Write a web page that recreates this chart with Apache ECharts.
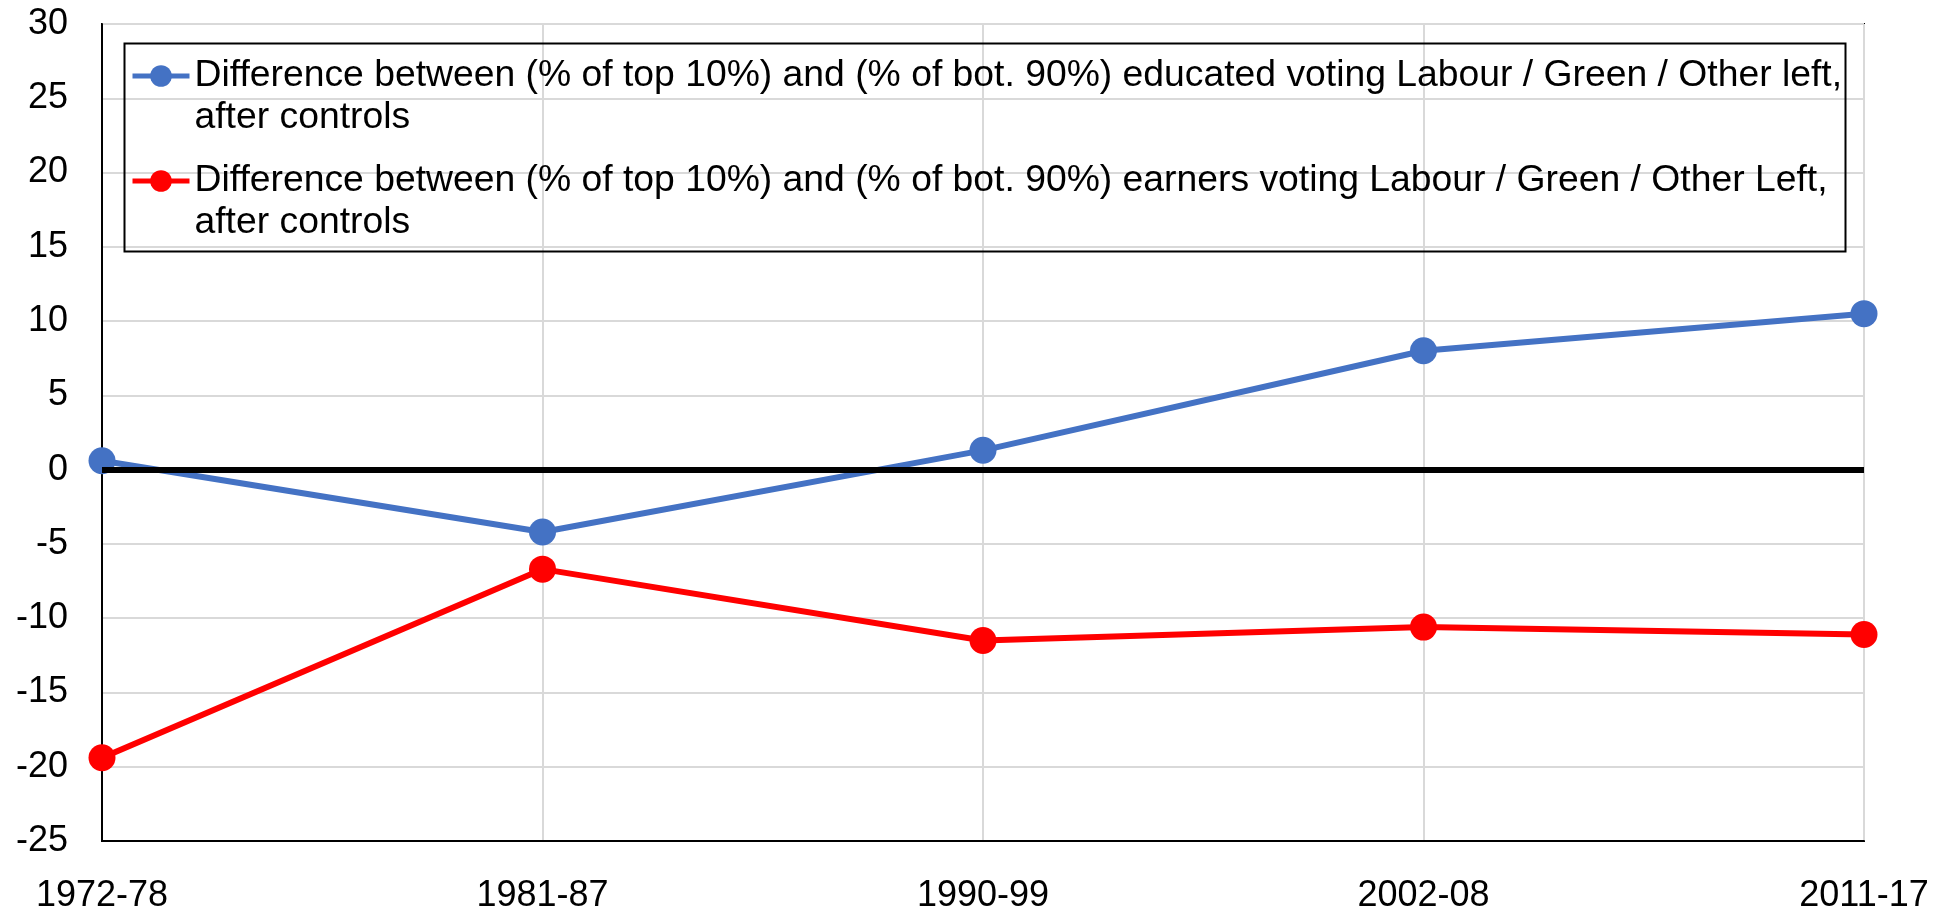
<!DOCTYPE html>
<html lang="en">
<head>
    <meta charset="UTF-8">
    <title>Top 10% educated vs earners - Labour / Green / Other left</title>
    <script src="https://cdn.jsdelivr.net/npm/echarts@6/dist/echarts.min.js"></script>
</head>
<style>
    html, body {
        margin: 0;
        padding: 0;
        background: #ffffff;
    }
    #map {
        width: 1953px;
        height: 915px;
    }
</style>
<body>
<div id="map"></div>
<script>
    var periods = ['1972-78', '1981-87', '1990-99', '2002-08', '2011-17'];
    var educatedName = 'Difference between (% of top 10%) and (% of bot. 90%) educated voting Labour / Green / Other left,\nafter controls';
    var earnersName = 'Difference between (% of top 10%) and (% of bot. 90%) earners voting Labour / Green / Other Left,\nafter controls';
    var educated = [0.6, -4.2, 1.3, 8.0, 10.5];
    var earners = [-19.4, -6.7, -11.5, -10.6, -11.1];

    var FONT = '"Liberation Sans", Arial, sans-serif';

    var map = echarts.init(document.getElementById('map'));

    var option = {
        animation: false,
        backgroundColor: '#ffffff',
        grid: {
            left: 102,
            right: 89,
            top: 24,
            bottom: 74,
            show: true,
            borderColor: '#000000',
            borderWidth: 2
        },
        legend: {
            orient: 'vertical',
            left: 130,
            top: 13,
            padding: 0,
            itemGap: -21,
            itemWidth: 57,
            itemHeight: 27,
            lineStyle: {width: 5},
            data: [educatedName, earnersName],
            // empty first line so the icon sits on the first text row
            formatter: function (name) {
                return '\n' + name;
            },
            textStyle: {
                fontFamily: FONT,
                fontSize: 37.3,
                color: '#000000',
                lineHeight: 42
            }
        },
        // border of the legend box
        graphic: [{
            type: 'rect',
            left: 122,
            top: 41,
            shape: {width: 1721, height: 208},
            style: {fill: 'none', stroke: '#000000', lineWidth: 2},
            z: 10
        }],
        xAxis: {
            type: 'category',
            data: periods,
            boundaryGap: false,
            axisLine: {onZero: false, lineStyle: {color: '#000000', width: 2}},
            axisTick: {show: false},
            axisLabel: {
                fontFamily: FONT,
                fontSize: 36,
                color: '#000000',
                margin: 37
            },
            splitLine: {show: true, lineStyle: {color: '#d9d9d9', width: 2}}
        },
        yAxis: {
            type: 'value',
            min: -25,
            max: 30,
            interval: 5,
            axisLine: {show: true, lineStyle: {color: '#000000', width: 2}},
            axisTick: {show: false},
            axisLabel: {
                fontFamily: FONT,
                fontSize: 36,
                color: '#000000',
                margin: 34
            },
            splitLine: {lineStyle: {color: '#d9d9d9', width: 2}}
        },
        series: [
            {
                // zero reference line
                type: 'line',
                data: [],
                z: 1,
                silent: true,
                markLine: {
                    silent: true,
                    symbol: 'none',
                    label: {show: false},
                    lineStyle: {color: '#000000', width: 6, type: 'solid'},
                    data: [{yAxis: 0}]
                }
            },
            {
                name: educatedName,
                type: 'line',
                data: educated,
                z: 3,
                symbol: 'circle',
                symbolSize: 27,
                itemStyle: {color: '#4472C4'},
                lineStyle: {color: '#4472C4', width: 6}
            },
            {
                name: earnersName,
                type: 'line',
                data: earners,
                z: 3,
                symbol: 'circle',
                symbolSize: 27,
                itemStyle: {color: '#FF0000'},
                lineStyle: {color: '#FF0000', width: 6}
            }
        ]
    };

    map.setOption(option);
</script>
</body>
</html>
